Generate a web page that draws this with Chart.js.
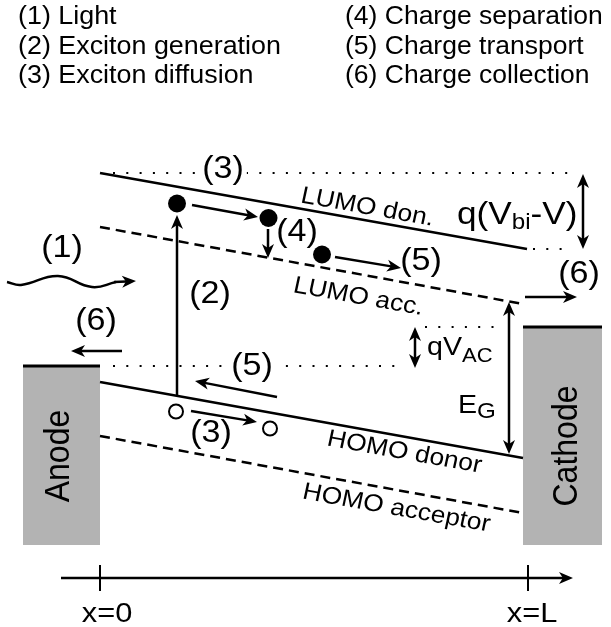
<!DOCTYPE html>
<html><head><meta charset="utf-8">
<script src="https://cdn.jsdelivr.net/npm/chart.js@4"></script>
<style>html,body{margin:0;padding:0;background:#fff}canvas{display:block}</style>
</head><body>
<canvas id="c" width="611" height="627"></canvas>
<script>
// ---- data (diagram units: one unit = one pixel of the 611x627 frame) ----
const legendLeft  = ["(1) Light", "(2) Exciton generation", "(3) Exciton diffusion"];
const legendRight = ["(4) Charge separation", "(5) Charge transport", "(6) Charge collection"];
const legendColX  = [18, 345];
const legendRowY  = [24, 53.5, 83];

// energy levels [x1, y1, x2, y2]
const lumoDonor    = [100, 173, 527, 249];
const lumoAcceptor = [100, 227, 523, 304];
const homoDonor    = [100, 382, 523, 458];
const homoAcceptor = [100, 436, 523, 513];
const electrodeTops = [[23, 366, 100, 366], [523, 327, 602, 327]];
const dottedLevels = [[113, 173, 570, 173], [533, 249, 570, 249], [425, 327, 500, 327], [113, 366, 405, 366]];
const axisTicks = [[100, 565, 100, 591], [528, 565, 528, 591]];
// electrodes [x1, y1, x2, y2]
const electrodes = [[23, 366, 100, 545], [523, 327, 602, 545]];
const electrodeNames = ["Anode", "Cathode"];
const electrodeLabelPos = [[57, 456], [565, 446]];
// light wave
const waveX = [7, 21, 58, 92, 116];
const waveY = [282, 285, 276, 287, 282];
// charges
const electronX = [177, 268.5, 322];
const electronY = [203.5, 218, 254.5];
const holeX = [176, 270];
const holeY = [411.5, 428.5];
// arrows [x1, y1, x2, y2, heads(1=end,2=both)]
const arrows = [
  [177, 396, 177, 215, 1],
  [192, 205, 258, 217, 1],
  [268, 229, 268, 258, 1],
  [335, 257, 401, 268, 1],
  [525, 297, 577, 297, 1],
  [122, 351, 71, 351, 1],
  [277, 397, 195, 381, 1],
  [191, 411, 257, 422, 1],
  [583, 174, 583, 249, 2],
  [415, 327, 415, 368, 2],
  [509, 302, 509, 454, 2],
  [61, 578, 573, 578, 1],
  [114, 282, 136, 281, 1]
];
// step labels
const stepText = ["(1)", "(2)", "(3)", "(4)", "(5)", "(6)", "(6)", "(5)", "(3)"];
const stepPos  = [[62, 249], [210, 295], [223, 170], [297, 233], [421, 262], [579, 275], [96, 322], [252, 367], [211, 434]];
const stepKnockout = [false, false, true, false, false, false, false, true, false];
// level labels
const levelText  = ["LUMO don.", "LUMO acc.", "HOMO donor", "HOMO acceptor"];
const levelPos   = [[366, 214], [357, 303.5], [403, 459], [395, 515]];
// axis labels
const axisText = ["x=0", "x=L"];
const axisPos  = [[107, 622], [532, 622]];

const STRETCH = 1.1;
const FONT = '"Liberation Sans", Arial, sans-serif';

function seg(a, w, dash) {
  return { type: 'line', showLine: true, data: [{x: a[0], y: a[1]}, {x: a[2], y: a[3]}],
    borderColor: '#000', borderWidth: w, borderDash: dash || [], borderCapStyle: 'butt',
    pointRadius: 0, fill: false, tension: 0 };
}

const datasets = [];
datasets.push(seg(lumoDonor, 2.5));
datasets.push(seg(homoDonor, 2.5));
datasets.push(seg(lumoAcceptor, 2.5, [10, 6]));
datasets.push(seg(homoAcceptor, 2.5, [10, 6]));
electrodeTops.forEach(a => datasets.push(seg(a, 3)));
dottedLevels.forEach(a => datasets.push(seg(a, 2, [2, 11.3])));
axisTicks.forEach(a => datasets.push(seg(a, 2)));
datasets.push({ type: 'line', showLine: true, data: waveX.map((x, i) => ({x, y: waveY[i]})),
  borderColor: '#000', borderWidth: 2.5, pointRadius: 0, fill: false, tension: 0.45 });
datasets.push({ type: 'scatter', data: electronX.map((x, i) => ({x, y: electronY[i]})),
  pointRadius: 9, pointBackgroundColor: '#000', pointBorderColor: '#000', pointBorderWidth: 0 });
datasets.push({ type: 'scatter', data: holeX.map((x, i) => ({x, y: holeY[i]})),
  pointRadius: 7, pointBackgroundColor: '#fff', pointBorderColor: '#000', pointBorderWidth: 2 });

function head(ctx, x1, y1, x2, y2, L, W) {
  const a = Math.atan2(y2 - y1, x2 - x1);
  ctx.save(); ctx.translate(x2, y2); ctx.rotate(a);
  ctx.beginPath(); ctx.moveTo(0, 0); ctx.lineTo(-L, -W); ctx.lineTo(-L * 0.72, 0); ctx.lineTo(-L, W);
  ctx.closePath(); ctx.fill(); ctx.restore();
}

function rich(ctx, parts, x, y, align, angle, stretch) {
  // parts: [text, size, dy]
  const s = stretch || STRETCH;
  let total = 0;
  parts.forEach(p => { ctx.font = p[1] + 'px ' + FONT; total += ctx.measureText(p[0]).width; });
  ctx.save(); ctx.translate(x, y); ctx.scale(s, 1); ctx.rotate(angle || 0);
  let cx = align === 'center' ? -total / 2 : 0;
  ctx.textBaseline = 'alphabetic'; ctx.textAlign = 'left';
  parts.forEach(p => { ctx.font = p[1] + 'px ' + FONT; ctx.fillText(p[0], cx, p[2] || 0); cx += ctx.measureText(p[0]).width; });
  ctx.restore();
  return total * s;
}

const diagram = {
  id: 'diagram',
  beforeDatasetsDraw(chart) {
    const ctx = chart.ctx, sx = chart.scales.x, sy = chart.scales.y;
    ctx.save(); ctx.fillStyle = '#b3b3b3';
    electrodes.forEach(r => {
      const x1 = sx.getPixelForValue(r[0]), y1 = sy.getPixelForValue(r[1]);
      const x2 = sx.getPixelForValue(r[2]), y2 = sy.getPixelForValue(r[3]);
      ctx.fillRect(x1, y1, x2 - x1, y2 - y1);
    });
    ctx.restore();
  },
  afterDatasetsDraw(chart) {
    const ctx = chart.ctx, sx = chart.scales.x, sy = chart.scales.y;
    const X = v => sx.getPixelForValue(v), Y = v => sy.getPixelForValue(v);
    ctx.save(); ctx.strokeStyle = '#000'; ctx.fillStyle = '#000'; ctx.lineWidth = 2.5; ctx.lineCap = 'butt';
    const L = 14, W = 6;
    arrows.forEach(a => {
      let x1 = X(a[0]), y1 = Y(a[1]), x2 = X(a[2]), y2 = Y(a[3]);
      const len = Math.hypot(x2 - x1, y2 - y1), ux = (x2 - x1) / len, uy = (y2 - y1) / len;
      const sx1 = a[4] === 2 ? x1 + ux * L * 0.7 : x1, sy1 = a[4] === 2 ? y1 + uy * L * 0.7 : y1;
      ctx.beginPath(); ctx.moveTo(sx1, sy1); ctx.lineTo(x2 - ux * L * 0.7, y2 - uy * L * 0.7); ctx.stroke();
      head(ctx, x1, y1, x2, y2, L, W);
      if (a[4] === 2) head(ctx, x2, y2, x1, y1, L, W);
    });
    // legend
    ctx.fillStyle = '#000';
    legendLeft.forEach((t, i) => rich(ctx, [[t, 25]], X(legendColX[0]), Y(legendRowY[i]), 'left', 0, 1.075));
    legendRight.forEach((t, i) => rich(ctx, [[t, 25]], X(legendColX[1]), Y(legendRowY[i]), 'left', 0, 1.06));
    // step labels
    stepText.forEach((t, i) => {
      const size = 31, px = X(stepPos[i][0]), py = Y(stepPos[i][1]);
      if (stepKnockout[i]) {
        ctx.font = size + 'px ' + FONT;
        const w = ctx.measureText(t).width * STRETCH;
        ctx.fillStyle = '#fff'; ctx.fillRect(px - w / 2 - 3, py - 6, w + 6, 12); ctx.fillStyle = '#000';
      }
      rich(ctx, [[t, size]], px, py + 0.26 * size, 'center');
    });
    // level labels
    const ang = Math.atan(((lumoDonor[3] - lumoDonor[1]) / (lumoDonor[2] - lumoDonor[0])) * STRETCH);
    levelText.forEach((t, i) => rich(ctx, [[t, 24]], X(levelPos[i][0]), Y(levelPos[i][1]), 'center', ang));
    // electrodes names
    electrodeNames.forEach((t, i) => {
      ctx.save(); ctx.font = '32px ' + FONT; ctx.textAlign = 'center'; ctx.textBaseline = 'middle';
      ctx.translate(X(electrodeLabelPos[i][0]), Y(electrodeLabelPos[i][1])); ctx.scale(STRETCH, 1); ctx.rotate(-Math.PI / 2);
      ctx.fillText(t, 0, 2); ctx.restore();
    });
    // physics labels
    rich(ctx, [["q(V", 32], ["bi", 22, 5], ["-V)", 32]], X(457), Y(224), 'left');
    rich(ctx, [["qV", 26], ["AC", 20, 7]], X(427), Y(355), 'left');
    rich(ctx, [["E", 26], ["G", 22, 5]], X(458), Y(413), 'left');
    axisText.forEach((t, i) => rich(ctx, [[t, 28]], X(axisPos[i][0]), Y(axisPos[i][1]), 'center'));
    ctx.restore();
  }
};

new Chart(document.getElementById('c'), {
  type: 'scatter',
  data: { datasets },
  options: {
    responsive: false, animation: false, devicePixelRatio: 1,
    layout: { padding: 0, autoPadding: false },
    plugins: { legend: { display: false }, tooltip: { enabled: false } },
    scales: {
      x: { type: 'linear', min: 0, max: 611, display: false },
      y: { type: 'linear', min: 0, max: 627, reverse: true, display: false }
    }
  },
  plugins: [diagram]
});
</script>
</body></html>
